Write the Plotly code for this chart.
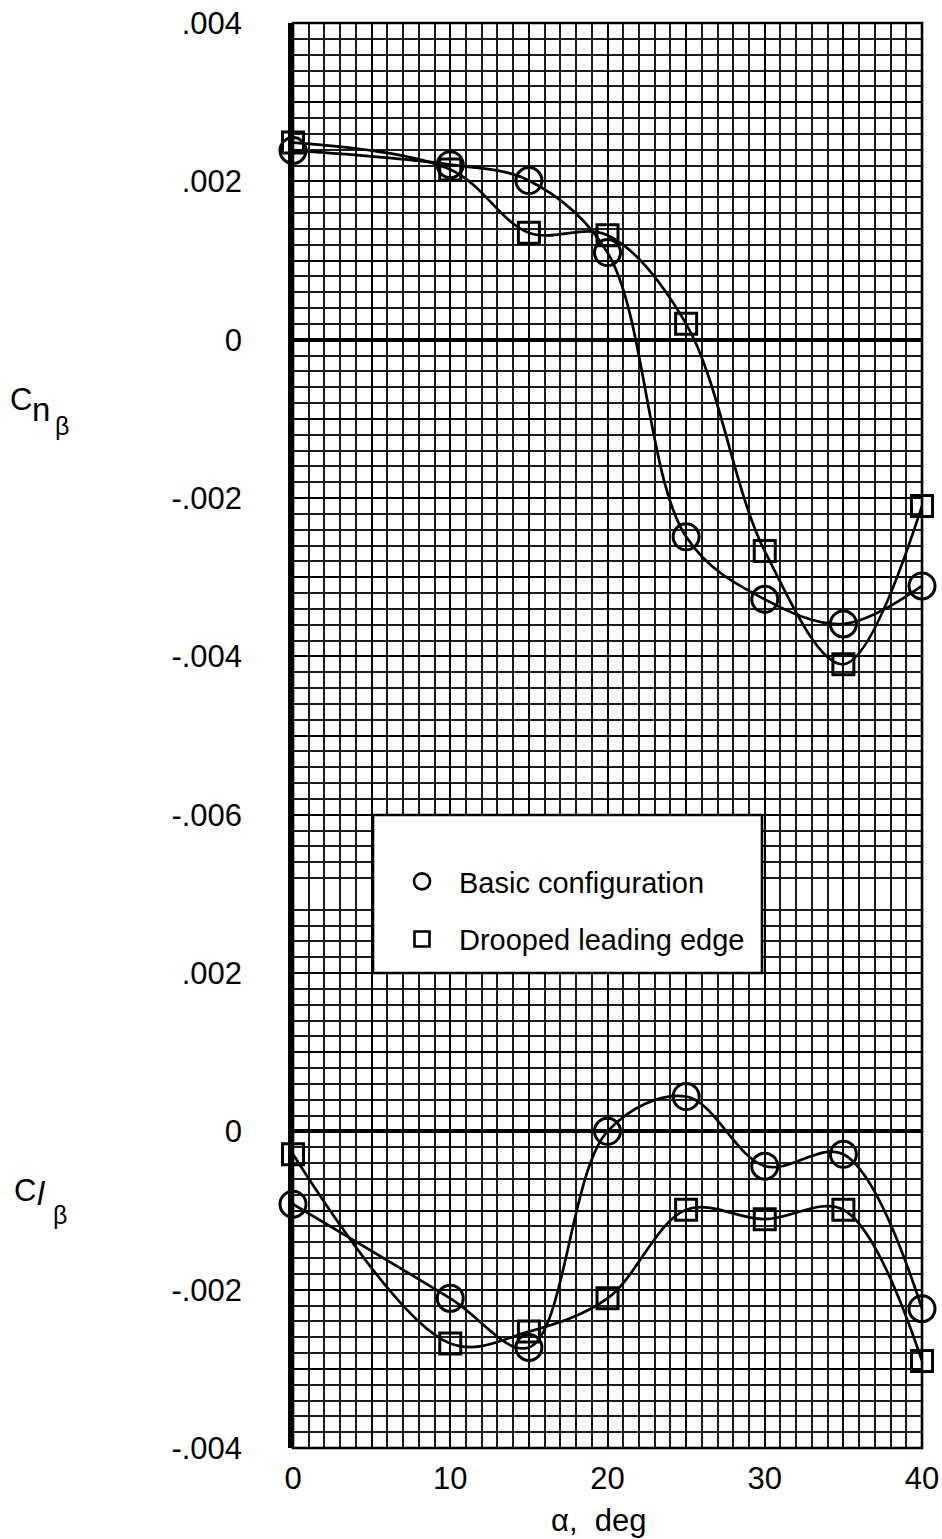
import plotly.graph_objects as go
from plotly.subplots import make_subplots

# Angle of attack, deg
alpha = [0, 10, 15, 20, 25, 30, 35, 40]

# Directional stability derivative C_n_beta
cn_basic = [0.00239, 0.00221, 0.00201, 0.00110, -0.00249, -0.00328, -0.00359, -0.00311]
cn_droop = [0.00249, 0.00215, 0.00135, 0.00132, 0.00020, -0.00267, -0.00410, -0.00210]

# Effective dihedral derivative C_l_beta
cl_basic = [-0.00092, -0.00211, -0.00273, 0.00000, 0.00044, -0.00044, -0.00029, -0.00224]
cl_droop = [-0.00029, -0.00268, -0.00253, -0.00211, -0.00099, -0.00111, -0.00099, -0.00290]

series_names = ["Basic configuration", "Drooped leading edge"]

# Tick labels
x_ticks = [0, 5, 10, 15, 20, 25, 30, 35, 40]
x_labels = ["0", "", "10", "", "20", "", "30", "", "40"]
cn_ticks = [0.004, 0.003, 0.002, 0.001, 0.0, -0.001, -0.002, -0.003, -0.004, -0.005, -0.006, -0.007]
cn_labels = [".004", "", ".002", "", "0", "", "-.002", "", "-.004", "", "-.006", ""]
cl_ticks = [0.003, 0.002, 0.001, 0.0, -0.001, -0.002, -0.003, -0.004]
cl_labels = ["", ".002", "", "0", "", "-.002", "", "-.004"]

FONT = "Liberation Sans, Arial, sans-serif"
W, H = 942, 1539
ML, MR, MT, MB = 293, 20, 23, 91
PW, PH = W - ML - MR, H - MT - MB


def px(x):
    return (x - ML) / PW


def py(y):
    return (H - MB - y) / PH


fig = make_subplots(rows=2, cols=1, shared_xaxes=True, vertical_spacing=0,
                    row_heights=[11, 7])

line_style = dict(color="black", width=2.7, shape="spline", smoothing=1.0)
circ = dict(symbol="circle-open", size=26, color="black", line=dict(width=3, color="black"))
sq = dict(symbol="square-open", size=21, color="black", line=dict(width=3, color="black"))

for row, (yb, yd) in enumerate([(cn_basic, cn_droop), (cl_basic, cl_droop)], start=1):
    fig.add_trace(go.Scatter(x=alpha, y=yb, mode="lines+markers", line=line_style,
                             marker=circ, showlegend=False, cliponaxis=False), row=row, col=1)
    fig.add_trace(go.Scatter(x=alpha, y=yd, mode="lines+markers", line=line_style,
                             marker=sq, showlegend=False, cliponaxis=False), row=row, col=1)

# Legend entries (symbols only)
fig.add_trace(go.Scatter(x=[None], y=[None], mode="markers", name=series_names[0],
                         legendgroup="a",
                         marker=dict(symbol="circle-open", size=16, color="black",
                                     line=dict(width=2.6, color="black"))), row=1, col=1)
fig.add_trace(go.Scatter(x=[None], y=[None], mode="markers", name=series_names[1],
                         legendgroup="b",
                         marker=dict(symbol="square-open", size=15, color="black",
                                     line=dict(width=2.6, color="black"))), row=1, col=1)

grid_minor = dict(showgrid=True, gridcolor="#1c1c1c", gridwidth=1.5)
axis_common = dict(showgrid=True, gridcolor="black", gridwidth=2.3,
                   ticks="outside", tickcolor="rgba(0,0,0,0)", automargin=False,
                   tickfont=dict(family=FONT, size=31, color="black"))

fig.update_xaxes(range=[0, 40], tickvals=x_ticks, ticktext=x_labels,
                 minor=dict(dtick=1, **grid_minor), zeroline=False,
                 showline=False, **axis_common)
fig.update_xaxes(ticklen=3, row=2, col=1)
fig.update_xaxes(showticklabels=False, row=1, col=1)

fig.update_yaxes(range=[-0.007, 0.004], tickvals=cn_ticks, ticktext=cn_labels,
                 minor=dict(tick0=0, dtick=0.0002, **grid_minor),
                 zeroline=True, zerolinecolor="black", zerolinewidth=3.6,
                 showline=True, linecolor="black", linewidth=4.5, ticklen=40,
                 row=1, col=1, **axis_common)
fig.update_yaxes(range=[-0.004, 0.003], tickvals=cl_ticks, ticktext=cl_labels,
                 minor=dict(tick0=0, dtick=0.0002, **grid_minor),
                 zeroline=True, zerolinecolor="black", zerolinewidth=3.6,
                 showline=True, linecolor="black", linewidth=4.5, ticklen=40,
                 row=2, col=1, **axis_common)

shapes = [
    # outer frame of the grid
    dict(type="rect", xref="paper", yref="paper", x0=0, x1=1, y0=0, y1=1,
         line=dict(color="black", width=2.6), layer="above"),
    # legend panel
    dict(type="rect", xref="paper", yref="paper", x0=px(373), x1=px(762),
         y0=py(973), y1=py(815), fillcolor="white",
         line=dict(color="black", width=2.6), layer="above"),
]

ann = []


def label(text, x, y, size):
    ann.append(dict(text=text, xref="paper", yref="paper", x=px(x), y=py(y),
                    xanchor="center", yanchor="middle", showarrow=False,
                    font=dict(family=FONT, size=size, color="black")))


label("C", 21, 399, 31)
label("n", 41, 409, 33)
label("β", 62, 426, 25)
label("C", 25, 1190, 31)
label("<i>l</i>", 41, 1193, 33)
label("β", 60, 1215, 25)
label("α,  deg", 598, 1520, 31)

fig.update_layout(
    width=W, height=H,
    margin=dict(l=ML, r=MR, t=MT, b=MB, autoexpand=False),
    plot_bgcolor="white", paper_bgcolor="white",
    shapes=shapes, annotations=ann,
    legend=dict(x=px(385), y=py(856), xanchor="left", yanchor="top",
                bgcolor="rgba(0,0,0,0)", borderwidth=0, tracegroupgap=17,
                itemwidth=64,
                font=dict(family=FONT, size=29, color="black")),
    font=dict(family=FONT, color="black"),
)

fig.write_html("out.html")
